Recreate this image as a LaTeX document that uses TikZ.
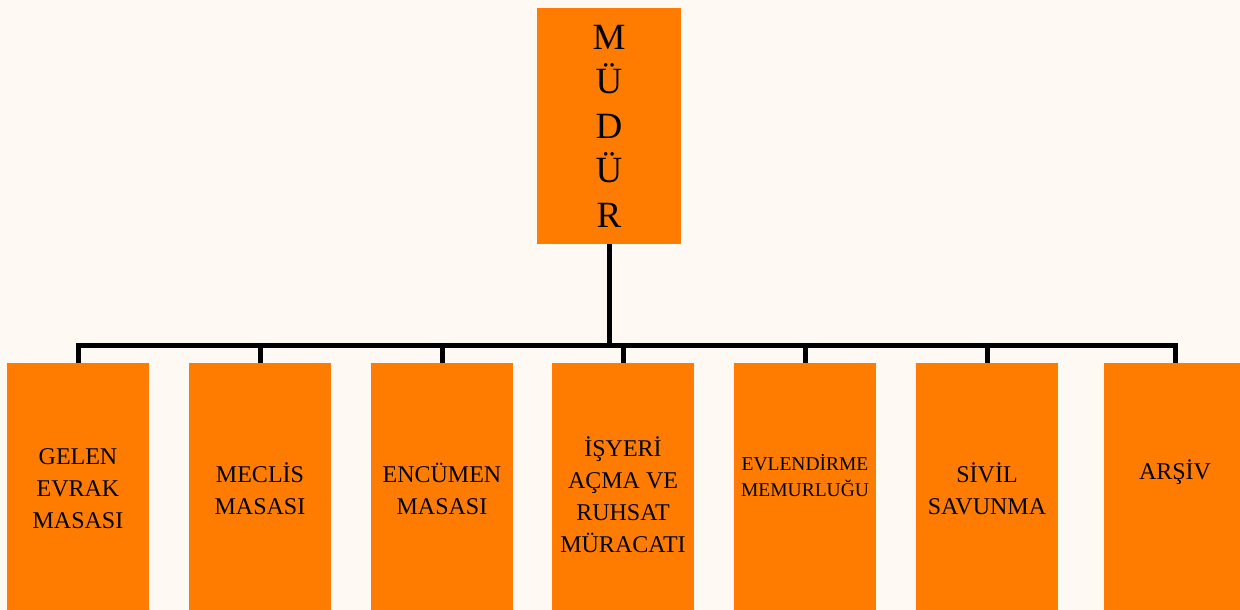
\documentclass[tikz,border=0pt]{standalone}
\usepackage{fontspec}
\setmainfont{Liberation Serif}
\definecolor{turuncu}{RGB}{255,124,0}
\definecolor{zemin}{RGB}{255,249,244}

\begin{document}
\begin{tikzpicture}[x=1pt,y=-1pt]
\tikzset{
  kutu/.style={fill=turuncu, inner sep=0pt, minimum width=142pt, minimum height=252pt},
  yazi/.style={align=center, font=\fontsize{24}{32}\selectfont},
  hat/.style={line width=5pt}
}

\fill[zemin] (0,0) rectangle (1240,610);
\clip (0,0) rectangle (1240,610);

% mudur
\node[fill=turuncu, inner sep=0pt, minimum width=144pt, minimum height=236pt,
  align=center, font=\fontsize{37}{44.5}\selectfont] (mudur) at (609,126) {M\\Ü\\D\\Ü\\R};

% birimler
\node[kutu] (gelen) at (78,489) {};
\node[kutu] (meclis) at (260,489) {};
\node[kutu] (encumen) at (442,489) {};
\node[kutu] (isyeri) at (623,489) {};
\node[kutu] (evlendirme) at (805,489) {};
\node[kutu] (sivil) at (987,489) {};
\node[kutu] (arsiv) at (1175,489) {};

\node[yazi] (gelen-t) at (gelen) {GELEN\\EVRAK\\MASASI};
\node[yazi] (meclis-t) at (meclis) {MECLİS\\MASASI};
\node[yazi] (encumen-t) at (encumen) {ENCÜMEN\\MASASI};
\node[yazi] (isyeri-t) at ([yshift=-6pt]isyeri.center) {İŞYERİ\\AÇMA VE\\RUHSAT\\MÜRACATI};
\node[yazi, font=\fontsize{19.5}{26}\selectfont] (evlendirme-t) at ([yshift=13pt]evlendirme.center) {EVLENDİRME\\MEMURLUĞU};
\node[yazi] (sivil-t) at (sivil) {SİVİL\\SAVUNMA};
\node[yazi] (arsiv-t) at ([yshift=17pt]arsiv.center) {ARŞİV};

% baglantilar
\coordinate (bus) at (609,345);
\draw[hat] (mudur.south) -- (bus);
\draw[hat] (gelen.north) -- (gelen.north |- bus) -- (arsiv.north |- bus) -- (arsiv.north);
\foreach \k in {meclis,encumen,isyeri,evlendirme,sivil}
  \draw[hat] (\k.north |- bus) -- (\k.north);

\end{tikzpicture}
\end{document}
